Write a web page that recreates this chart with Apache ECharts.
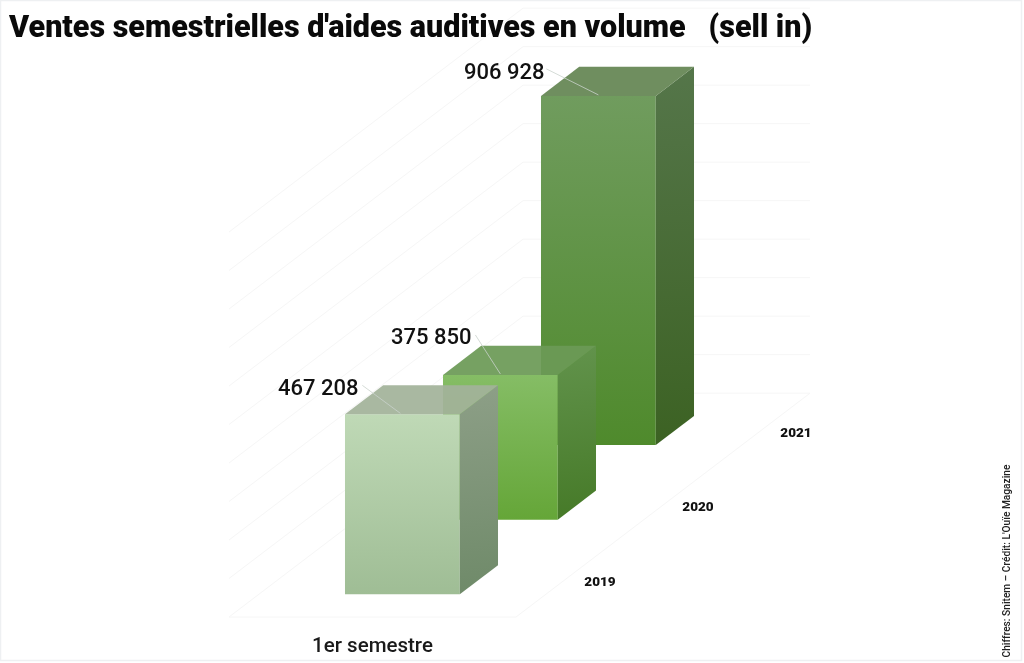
<!DOCTYPE html>
<html><head><meta charset="utf-8">
<style>html,body{margin:0;padding:0;background:#fff}#c{width:1024px;height:663px}</style>
<script src="https://cdn.jsdelivr.net/npm/echarts@6/dist/echarts.min.js"></script>
</head><body><div id="c"></div>
<script>
const semestres = ['1er semestre'];
const annees = ['2019', '2020', '2021'];
const ventes2019 = [467208];
const ventes2020 = [375850];
const ventes2021 = [906928];
const yTicks = [0,100000,200000,300000,400000,500000,600000,700000,800000,900000,1000000];
const fmt = v => String(v).replace(/\B(?=(\d{3})+$)/g, ' ');

const DEPTH = [98, -74.6];          // projection of one year of depth
const BAR_FRAC = 0.40, DEPTH_FRAC = 0.39;
const styles = [
 {front:['#bfd9b6','#9fbd95'], side:['#8d9f87','#6f8a69'], top:'#a2b39a', label:[-44,-25], lead:[[-40,-29],[-2,-1]]},
 {front:['#85bd65','#65a638'], side:['#62934c','#467a28'], top:'#6c9a56', label:[-29,-36], lead:[[-25,-40],[0,-1]]},
 {front:['#709c5e','#4f8a2c'], side:['#55764a','#3c6223'], top:'#648553', label:[-54,-22], lead:[[-52,-27],[0,-1]]}
];
const grad = (c,x2,y2) => ({type:'linear',x:0,y:0,x2:x2,y2:y2,colorStops:[{offset:0,color:c[0]},{offset:1,color:c[1]}]});

function barSeries(yearIndex, values) {
  const st = styles[yearIndex];
  return {
    type:'custom', silent:true, z:10 + (2 - yearIndex),
    data: values.map((v,i)=>[i,v]),
    encode:{x:0,y:1},
    renderItem(params, api){
      const v = api.value(1);
      const c = api.coord([api.value(0), v]);
      const b = api.coord([api.value(0), 0]);
      const w = api.size([1,0])[0]*BAR_FRAC;
      const dx = DEPTH[0]*DEPTH_FRAC, dy = DEPTH[1]*DEPTH_FRAC;
      const cx = c[0] + DEPTH[0]*(yearIndex+0.5) - dx/2;
      const ox = DEPTH[1]*(yearIndex+0.5) - dy/2;
      const yT = c[1]+ox, yB = b[1]+ox, xL = cx-w/2, xR = cx+w/2;
      const poly=(pts,fill,extra)=>Object.assign({type:'polygon',shape:{points:pts},style:{fill:fill}},extra||{});
      return {type:'group',children:[
        poly([[xL,yT],[xR,yT],[xR,yB],[xL,yB]], grad(st.front,0,1)),
        poly([[xR,yT],[xR+dx,yT+dy],[xR+dx,yB+dy],[xR,yB]], grad(st.side,0.5,1)),
        poly([[xL,yT],[xR,yT],[xR+dx,yT+dy],[xL+dx,yT+dy]], st.top, {style:{fill:st.top,opacity:0.93}}),
        {type:'line',shape:{x1:cx+st.lead[0][0],y1:yT+st.lead[0][1],x2:cx+st.lead[1][0],y2:yT+st.lead[1][1]},
         style:{stroke:'#c9d2cc',lineWidth:0.8}},
        {type:'text',x:cx+st.label[0],y:yT+st.label[1],
         style:{text:fmt(v),align:'right',verticalAlign:'middle',fill:'#111',
                font:'500 22px Roboto'}}
      ]};
    }
  };
}

const wallSeries = {
  type:'custom', silent:true, z:1,
  data: yTicks.map(t=>[0,t]),
  encode:{x:0,y:1},
  renderItem(params, api){
    const cs = params.coordSys;
    const p = api.coord([0, api.value(1)]);
    const x0 = cs.x, x1 = cs.x + cs.width;
    const dx = DEPTH[0]*annees.length, dy = DEPTH[1]*annees.length;
    const s = {stroke:'#f6f6f6',lineWidth:1,fill:null};
    const kids = [{type:'polyline',shape:{points:[[x0,p[1]],[x0+dx,p[1]+dy],[x1+dx,p[1]+dy]]},style:s}];
    if (api.value(1)===0) {
      kids.push({type:'polyline',shape:{points:[[x0,p[1]],[x1,p[1]],[x1+dx,p[1]+dy]]},style:s});
    }
    return {type:'group',children:kids};
  }
};

const yearLabels = {
  type:'custom', silent:true, z:20,
  data: annees.map((a,i)=>[i,0]),
  encode:{y:1},
  renderItem(params, api){
    const i = api.value(0), cs = params.coordSys;
    const b = api.coord([0,0]);
    return {type:'text',
      x: cs.x+cs.width + DEPTH[0]*(i+0.5) + 35,
      y: b[1] + DEPTH[1]*(i+0.5) + 3,
      style:{text:annees[i],align:'center',verticalAlign:'middle',fill:'#111',font:'900 13.5px Roboto'}};
  }
};

const chart = echarts.init(document.getElementById('c'));
chart.setOption({
  animation:false,
  backgroundColor:'#ffffff',
  title:{text:"Ventes semestrielles d'aides auditives en volume   (sell in)",left:4,top:9,
    textStyle:{fontFamily:'Roboto',fontWeight:900,fontSize:30.5,color:'#0a0a0a'}},
  grid:{left:229,top:232,width:287,height:385},
  xAxis:{type:'category',data:semestres,axisLine:{show:false},axisTick:{show:false},
    axisLabel:{fontFamily:'Roboto',fontWeight:500,fontSize:20.5,color:'#1a1a1a',margin:19},splitLine:{show:false}},
  yAxis:{type:'value',min:0,max:1000000,interval:100000,show:false,splitLine:{show:false}},
  graphic:[
    {type:'rect',z:-1,shape:{x:0.5,y:0.5,width:1021,height:660},style:{fill:'none',stroke:'#eef0f2',lineWidth:1.5}},
    {type:'text',x:1007,y:561,rotation:Math.PI/2,originX:0,originY:0,z:30,
     style:{text:"Chiffres: Snitem – Crédit: L'Ouïe Magazine",align:'center',verticalAlign:'middle',
            fill:'#222',font:'500 10.2px Roboto'}}
  ],
  series:[wallSeries, barSeries(2,ventes2021), barSeries(1,ventes2020), barSeries(0,ventes2019), yearLabels]
});
</script></body></html>
